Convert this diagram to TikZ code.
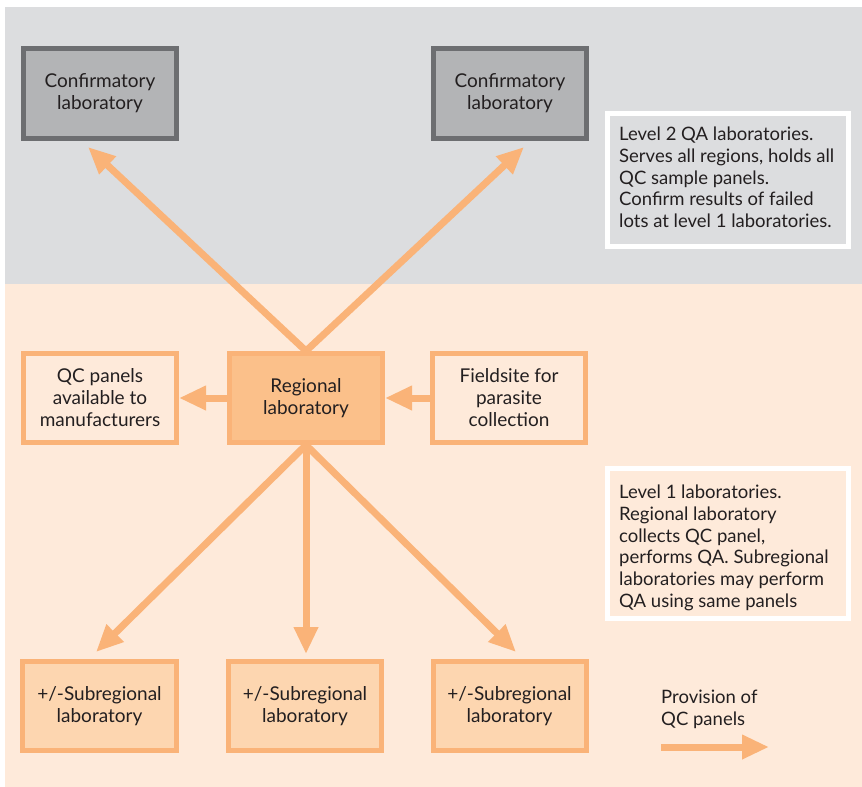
\documentclass[tikz,border=0pt]{standalone}
\usepackage{fontspec}
\setmainfont{Lato}
\usetikzlibrary{arrows.meta}
\definecolor{bggray}{HTML}{DCDDDF}
\definecolor{bgpeach}{HTML}{FEEADA}
\definecolor{orangeline}{HTML}{FAB378}
\definecolor{regfill}{HTML}{FBC08A}
\definecolor{subfill}{HTML}{FDD6B0}
\definecolor{conffill}{HTML}{B3B4B6}
\definecolor{confline}{HTML}{6D6E71}
\definecolor{textcol}{HTML}{231F20}
\tikzset{
  box/.style={rectangle, line width=5bp, minimum width=153bp, minimum height=89bp,
    inner sep=0pt, align=center, text=textcol,
    font=\fontsize{19bp}{22bp}\selectfont},
  confbox/.style={box, draw=confline, fill=conffill},
  regbox/.style={box, draw=orangeline, fill=regfill},
  subbox/.style={box, draw=orangeline, fill=subfill},
  plainbox/.style={box, draw=orangeline, fill=bgpeach},
  frame/.style={rectangle, draw=white, line width=5bp, minimum width=241bp, inner sep=0pt},
  note/.style={anchor=west, inner sep=0pt, align=left, text=textcol,
    font=\fontsize{18.5bp}{21.7bp}\selectfont},
  flow/.style={draw=orangeline, line width=7bp,
    -{Triangle[length=27bp,width=23bp]}},
}
\begin{document}
\begin{tikzpicture}[x=1bp,y=-1bp]
  \useasboundingbox (0,0) rectangle (862,787);
  % background bands
  \fill[white] (0,0) rectangle (862,787);
  \fill[bggray] (5,7) rectangle (862,284);
  \fill[bgpeach] (5,284) rectangle (862,787);

  % level 2
  \node[confbox] (conf1) at (100,93.5) {Confirmatory\\laboratory};
  \node[confbox] (conf2) at (510,93.5) {Confirmatory\\laboratory};
  \node[frame, fill=bggray, minimum height=133bp] (info2) at (728,180) {};
  \node[note] (info2text) at (619,177.5)
    {Level 2 QA laboratories.\\Serves all regions, holds all\\QC sample panels.\\Confirm results of failed\\lots at level 1 laboratories.};

  % level 1
  \node[plainbox] (qc) at (100,398) {QC panels\\available to\\manufacturers};
  \node[regbox] (reg) at (306,398) {Regional\\laboratory};
  \node[plainbox] (field) at (509,398) {Fieldsite for\\parasite\\collection};
  \node[frame, fill=bgpeach, minimum height=150bp] (info1) at (728,543.5) {};
  \node[note] (info1text) at (619,548)
    {Level 1 laboratories.\\Regional laboratory\\collects QC panel,\\performs QA. Subregional\\laboratories may perform\\QA using same panels};

  \node[subbox] (sub1) at (99.5,706) {+/-Subregional\\laboratory};
  \node[subbox] (sub2) at (305,706) {+/-Subregional\\laboratory};
  \node[subbox] (sub3) at (509.5,706) {+/-Subregional\\laboratory};

  % arrow end points
  \coordinate (up1) at (88,147);
  \coordinate (up2) at (524,147);
  \coordinate (dn1) at (96,652);
  \coordinate (dn2) at (306,654);
  \coordinate (dn3) at (516,652);

  \draw[flow] (reg.north) -- (up1);
  \draw[flow] (reg.north) -- (up2);
  \draw[flow] (reg.west) -- (qc.east);
  \draw[flow] (field.west) -- (reg.east);
  \draw[flow] (reg.south) -- (dn1);
  \draw[flow] (reg.south) -- (dn2);
  \draw[flow] (reg.south) -- (dn3);

  % legend
  \node[note] (legtext) at (661,709) {Provision of\\QC panels};
  \coordinate (legstart) at (661,747);
  \coordinate (legend) at (769,747);
  \draw[flow] (legstart) -- (legend);
\end{tikzpicture}
\end{document}
